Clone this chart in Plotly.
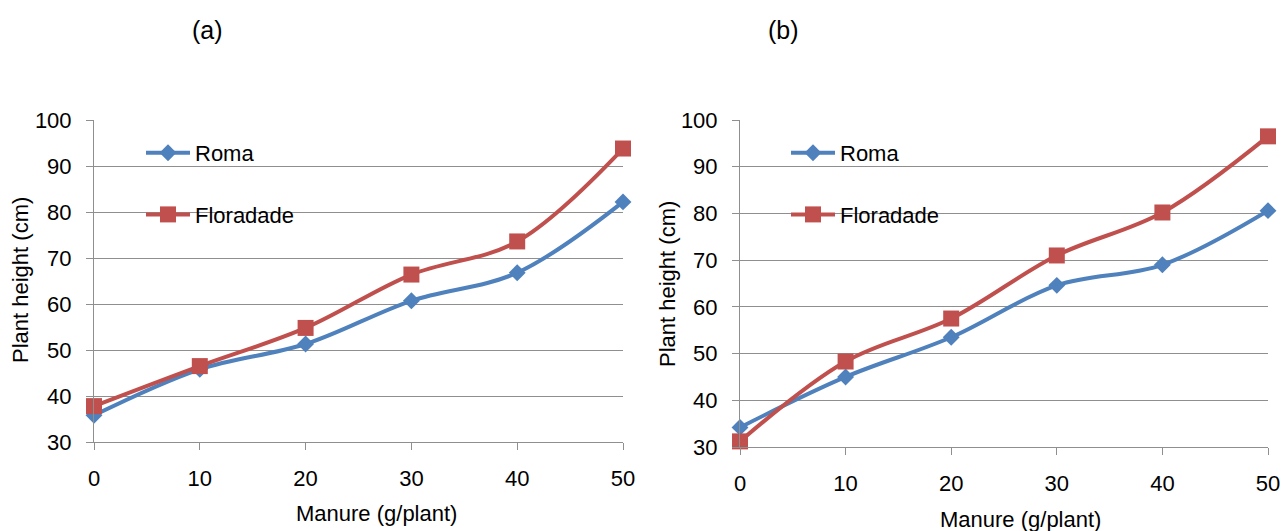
import plotly.graph_objects as go

# ---- data ----
manure = [0, 10, 20, 30, 40, 50]
roma_a = [35.8, 45.8, 51.3, 60.7, 66.8, 82.2]
flor_a = [37.8, 46.5, 54.8, 66.4, 73.6, 93.8]
roma_b = [34.2, 45.0, 53.5, 64.6, 69.0, 80.6]
flor_b = [31.2, 48.3, 57.5, 71.0, 80.2, 96.5]
panel_labels = ["(a)", "(b)"]
series_names = ["Roma", "Floradade"]
x_title = "Manure (g/plant)"
y_title = "Plant height (cm)"

BLUE = "#4F81BD"
RED = "#C0504D"
GRID = "#8F8F8F"
FONT = "Liberation Sans, Arial, sans-serif"
FS = 22

W, H = 1283, 531

fig = go.Figure()

def add_pair(roma, flor, xa, ya, legend):
    fig.add_trace(go.Scatter(
        x=manure, y=roma, name=series_names[0], xaxis=xa, yaxis=ya,
        mode="lines+markers", line=dict(color=BLUE, width=4, shape="spline", smoothing=1),
        marker=dict(symbol="diamond", size=13, color=BLUE),
        cliponaxis=False, legend=legend, legendgroup=legend + "r"))
    fig.add_trace(go.Scatter(
        x=manure, y=flor, name=series_names[1], xaxis=xa, yaxis=ya,
        mode="lines+markers", line=dict(color=RED, width=4, shape="spline", smoothing=1),
        marker=dict(symbol="square", size=16, color=RED),
        cliponaxis=False, legend=legend, legendgroup=legend + "f"))

add_pair(roma_a, flor_a, "x", "y", "legend")
add_pair(roma_b, flor_b, "x2", "y2", "legend2")

def px_x(p):
    return p / W

def px_y(p):
    return 1 - p / H

xaxis_common = dict(
    range=[0, 50], dtick=10, showgrid=False, showline=True, linecolor=GRID, linewidth=1,
    ticks="outside", ticklen=7, tickcolor=GRID, tickwidth=1, ticklabelstandoff=10,
    tickfont=dict(family=FONT, size=FS, color="#000"), zeroline=False, fixedrange=True,
    automargin=False)
yaxis_common = dict(
    range=[30, 100], dtick=10, showgrid=True, gridcolor=GRID, gridwidth=1,
    showline=True, linecolor=GRID, linewidth=1,
    ticks="outside", ticklen=7, tickcolor=GRID, tickwidth=1, ticklabelstandoff=10,
    tickfont=dict(family=FONT, size=FS, color="#000"), zeroline=False, fixedrange=True,
    automargin=False)

legend_common = dict(
    font=dict(family=FONT, size=FS, color="#000"), bgcolor="rgba(0,0,0,0)",
    borderwidth=0, tracegroupgap=30, xanchor="left", yanchor="top", itemclick=False,
    itemwidth=44)

fig.update_layout(
    width=W, height=H, margin=dict(l=0, r=0, t=0, b=0, autoexpand=False),
    paper_bgcolor="white", plot_bgcolor="white",
    font=dict(family=FONT, size=FS, color="#000"),
    xaxis=dict(domain=[px_x(94), px_x(623)], anchor="y", **xaxis_common),
    yaxis=dict(domain=[px_y(442), px_y(120)], anchor="x", **yaxis_common),
    xaxis2=dict(domain=[px_x(740), px_x(1268)], anchor="y2", **xaxis_common),
    yaxis2=dict(domain=[px_y(447), px_y(120)], anchor="x2", **yaxis_common),
    legend=dict(x=px_x(141), y=px_y(132), **legend_common),
    legend2=dict(x=px_x(786), y=px_y(132), **legend_common),
    showlegend=True,
)

annos = [
    dict(text=panel_labels[0], x=px_x(207), y=px_y(30), font_size=25),
    dict(text=panel_labels[1], x=px_x(784), y=px_y(30), font_size=25),
    dict(text=x_title, x=px_x(377), y=px_y(513), font_size=FS),
    dict(text=x_title, x=px_x(1020), y=px_y(519), font_size=FS),
    dict(text=y_title, x=px_x(20), y=px_y(280), textangle=-90, font_size=FS),
    dict(text=y_title, x=px_x(667), y=px_y(284), textangle=-90, font_size=FS),
]
for a in annos:
    fs = a.pop("font_size")
    fig.add_annotation(xref="paper", yref="paper", showarrow=False,
                       xanchor="center", yanchor="middle",
                       font=dict(family=FONT, size=fs, color="#000"), **a)

fig.write_html("out.html")
